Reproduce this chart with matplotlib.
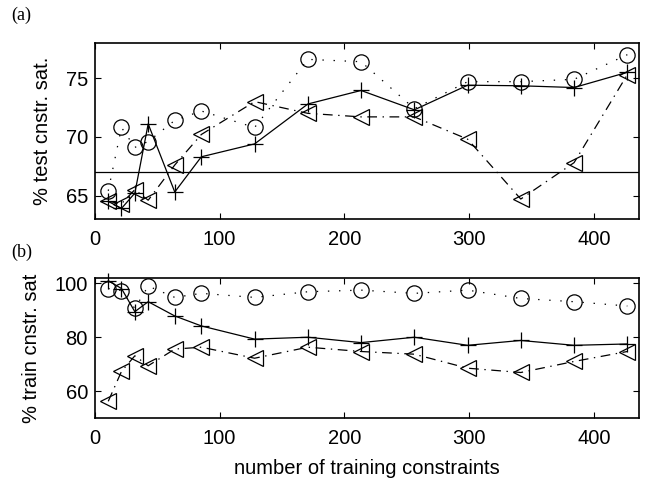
import matplotlib
matplotlib.use("Agg")
import matplotlib.pyplot as plt

x = [10.7, 21.3, 32, 42.7, 64, 85.3, 128, 170.7, 213.3, 256, 298.7, 341.3, 384, 426.7]

test_circle = [65.4, 70.8, 69.1, 69.6, 71.4, 72.2, 70.8, 76.6, 76.4, 72.4, 74.7, 74.7, 74.9, 77.0]
test_plus = [64.5, 63.9, 65.2, 71.1, 65.3, 68.3, 69.4, 72.8, 73.95, 72.3, 74.4, 74.35, 74.2, 75.5]
test_tri = [64.5, 64.3, 65.5, 64.6, 67.6, 70.2, 73.0, 72.0, 71.7, 71.7, 69.8, 64.7, 67.8, 75.3]
test_baseline = 67.0

train_circle = [98.1, 97.3, 90.7, 99.0, 94.8, 96.3, 94.8, 96.9, 97.5, 96.3, 97.5, 94.4, 93.2, 91.6]
train_plus = [101.0, 98.1, 89.5, 93.2, 87.9, 84.2, 79.3, 80.0, 78.0, 80.0, 77.0, 78.8, 77.0, 77.5]
train_tri = [56.2, 67.3, 73.1, 69.4, 75.6, 76.3, 72.2, 76.3, 74.7, 73.7, 68.5, 66.9, 71.0, 74.7]

plt.rcParams['font.family'] = ['Liberation Sans', 'DejaVu Sans']
plt.rcParams['lines.scale_dashes'] = False

fig = plt.figure(figsize=(6.5, 4.83), dpi=100)
ax1 = fig.add_axes([0.146, 0.5466, 0.837, 0.3645])
ax2 = fig.add_axes([0.146, 0.1346, 0.837, 0.2898])

lw = 0.9
ms_c = 11
ms_p = 12
ms_t = 12
fs = 14.5

def draw(ax, c, p, t):
    ax.plot(x, c, linestyle=(0, (1, 7)), color='k', lw=lw, marker='o', ms=ms_c,
            mfc='none', mec='k', mew=0.9, clip_on=False)
    ax.plot(x, p, linestyle='-', color='k', lw=lw, marker='+', ms=ms_p,
            mec='k', mew=0.9, clip_on=False)
    ax.plot(x, t, linestyle=(0, (7, 4, 1, 4)), color='k', lw=lw, marker='<', ms=ms_t,
            mfc='none', mec='k', mew=0.9, clip_on=False)
    ax.set_xlim(0, 436)
    ax.set_xticks([0, 100, 200, 300, 400])
    ax.tick_params(direction='in', top=True, right=True, length=4, width=0.8,
                   labelsize=fs)
    ax.tick_params(axis='x', pad=8)
    ax.tick_params(axis='y', pad=5)
    for s in ax.spines.values():
        s.set_linewidth(1.2)

draw(ax1, test_circle, test_plus, test_tri)
ax1.axhline(test_baseline, color='k', lw=0.9)
ax1.set_ylim(63, 78)
ax1.set_yticks([65, 70, 75])
ax1.set_ylabel('% test cnstr. sat.', fontsize=fs, labelpad=10)

draw(ax2, train_circle, train_plus, train_tri)
ax2.set_ylim(50, 102)
ax2.set_yticks([60, 80, 100])
ax2.set_ylabel('% train cnstr. sat', fontsize=fs, labelpad=10)
ax2.set_xlabel('number of training constraints', fontsize=fs, labelpad=8)

fig.text(0.018, 0.958, '(a)', family='Liberation Serif', fontsize=13)
fig.text(0.018, 0.468, '(b)', family='Liberation Serif', fontsize=13)

fig.savefig('out.png', dpi=100)
